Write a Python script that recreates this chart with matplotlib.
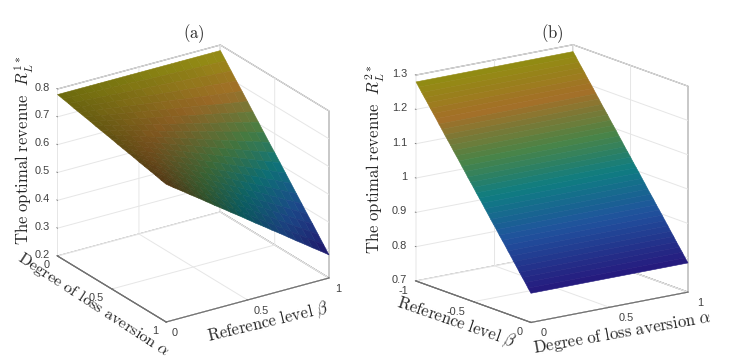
import numpy as np
import matplotlib
matplotlib.use('Agg')
import matplotlib.pyplot as plt
from matplotlib.colors import LinearSegmentedColormap, Normalize
from mpl_toolkits.mplot3d import proj3d

W_PX, H_PX = 742, 362

ALPHA_A = [i / 20 for i in range(21)]
BETA_A = [j / 20 for j in range(21)]
# Revenue: rows are alpha, columns are beta
REVENUE_A = [
    [.780] * 21,
    [.776,.775,.774,.773,.772,.771,.770,.769,.768,.767,.765,.764,.763,.762,.761,.760,.759,.758,.757,.756,.755],
    [.772,.769,.767,.765,.763,.761,.759,.757,.755,.753,.751,.749,.747,.745,.743,.741,.739,.736,.734,.732,.730],
    [.767,.764,.761,.758,.755,.752,.749,.746,.743,.739,.736,.733,.730,.727,.724,.721,.718,.715,.712,.709,.705],
    [.763,.759,.755,.751,.747,.742,.738,.734,.730,.726,.722,.718,.714,.709,.705,.701,.697,.693,.689,.685,.681],
    [.759,.754,.748,.743,.738,.733,.728,.723,.718,.712,.707,.702,.697,.692,.687,.682,.676,.671,.666,.661,.656],
    [.755,.748,.742,.736,.730,.724,.717,.711,.705,.699,.693,.687,.680,.674,.668,.662,.656,.649,.643,.637,.631],
    [.750,.743,.736,.729,.721,.714,.707,.700,.693,.685,.678,.671,.664,.657,.649,.642,.635,.628,.620,.613,.606],
    [.746,.738,.730,.721,.713,.705,.697,.688,.680,.672,.664,.655,.647,.639,.631,.622,.614,.606,.598,.589,.581],
    [.742,.732,.723,.714,.705,.695,.686,.677,.668,.658,.649,.640,.630,.621,.612,.603,.593,.584,.575,.566,.556],
    [.738,.727,.717,.707,.696,.686,.676,.665,.655,.645,.635,.624,.614,.604,.593,.583,.573,.562,.552,.542,.532],
    [.733,.722,.711,.699,.688,.677,.665,.654,.643,.631,.620,.609,.597,.586,.575,.563,.552,.541,.529,.518,.507],
    [.729,.717,.704,.692,.680,.667,.655,.642,.630,.618,.605,.593,.581,.568,.556,.544,.531,.519,.507,.494,.482],
    [.725,.711,.698,.685,.671,.658,.644,.631,.618,.604,.591,.577,.564,.551,.537,.524,.511,.497,.484,.470,.457],
    [.721,.706,.692,.677,.663,.648,.634,.620,.605,.591,.576,.562,.547,.533,.519,.504,.490,.475,.461,.446,.432],
    [.716,.701,.685,.670,.654,.639,.624,.608,.593,.577,.562,.546,.531,.515,.500,.485,.469,.454,.438,.423,.407],
    [.712,.696,.679,.663,.646,.630,.613,.597,.580,.564,.547,.531,.514,.498,.481,.465,.448,.432,.415,.399,.382],
    [.708,.690,.673,.655,.638,.620,.603,.585,.568,.550,.533,.515,.498,.480,.463,.445,.428,.410,.393,.375,.358],
    [.704,.685,.666,.648,.629,.611,.592,.574,.555,.537,.518,.500,.481,.462,.444,.425,.407,.388,.370,.351,.333],
    [.699,.680,.660,.641,.621,.601,.582,.562,.543,.523,.504,.484,.464,.445,.425,.406,.386,.367,.347,.327,.308],
    [.695,.674,.654,.633,.613,.592,.571,.551,.530,.510,.489,.468,.448,.427,.407,.386,.365,.345,.324,.304,.283],
]

BETA_B = [-1, -.975, -.95, -.925, -.9, -.875, -.85, -.825, -.8, -.775, -.75, -.725, -.7, -.675, -.65, -.625,
          -.6, -.575, -.55, -.525, -.5, -.475, -.45, -.425, -.4, -.375, -.35, -.325, -.3, -.275, -.25, -.225,
          -.2, -.175, -.15, -.125, -.1, -.075, -.05, -.025, 0]
ALPHA_B = [0, 1]
# Panel (b) does not change with alpha: one row per beta, same value at both alpha ends
REVENUE_B = [1.280, 1.268, 1.255, 1.243, 1.231, 1.218, 1.206, 1.194, 1.181, 1.169, 1.156, 1.144, 1.132, 1.119,
             1.107, 1.095, 1.082, 1.070, 1.057, 1.045, 1.033, 1.020, 1.008, .996, .983, .971, .958, .946, .934,
             .921, .909, .897, .884, .872, .859, .847, .834, .822, .810, .797, .785]

Z_TICKS_A = [.2, .3, .4, .5, .6, .7, .8]
Z_LABELS_A = ['0.2', '0.3', '0.4', '0.5', '0.6', '0.7', '0.8']
Z_TICKS_B = [.7, .8, .9, 1, 1.1, 1.2, 1.3]
Z_LABELS_B = ['0.7', '0.8', '0.9', '1', '1.1', '1.2', '1.3']
UNIT_TICKS = [0, .5, 1]
UNIT_LABELS = ['0', '0.5', '1']
NEG_TICKS = [-1, -.5, 0]
NEG_LABELS = ['-1', '-0.5', '0']

plt.rcParams['mathtext.fontset'] = 'cm'
plt.rcParams['font.family'] = ['Liberation Sans', 'DejaVu Sans']

SURF = LinearSegmentedColormap.from_list('surf', [
    (0.00, (38/255, 25/255, 125/255)),
    (0.25, (32/255, 82/255, 158/255)),
    (0.45, (15/255, 125/255, 130/255)),
    (0.62, (75/255, 132/255, 70/255)),
    (0.82, (165/255, 112/255, 40/255)),
    (1.00, (145/255, 142/255, 18/255)),
])

TICK_COL = '#404040'
EDGE_COL = '#707070'
GRID_COL = '#e6e6e6'


def style_axes(ax, xlim, ylim, zlim, elev, azim, aspect):
    ax.set_proj_type('ortho')
    ax.view_init(elev=elev, azim=azim)
    ax.set_box_aspect(aspect)
    ax.set_xlim(*xlim, view_margin=0)
    ax.set_ylim(*ylim, view_margin=0)
    ax.set_zlim(*zlim, view_margin=0)
    ax.patch.set_alpha(0)
    for axis in (ax.xaxis, ax.yaxis, ax.zaxis):
        axis.set_pane_color((1, 1, 1, 1))
        axis.pane.set_edgecolor(EDGE_COL)
        axis.pane.set_linewidth(0.8)
        axis.line.set_color(EDGE_COL)
        axis.line.set_linewidth(0.8)
        axis._axinfo['grid'].update(color=GRID_COL, linewidth=0.7)
        axis._axinfo['tick'].update(inward_factor=0.0, outward_factor=0.08, linewidth={True: .6, False: .6})
        axis._axinfo['tick']['color'] = EDGE_COL
    ax.tick_params(color=EDGE_COL)
    ax.zaxis._axinfo['juggled'] = (1, 0, 2)


def place(ax, p0, t0, p1, t1):
    """Size the axes so that two box corners land on the given pixel positions.
    Returns a function from data coordinates to picture pixels."""
    M = ax.get_proj()
    x0, y0, _ = proj3d.proj_transform(*p0, M)
    x1, y1, _ = proj3d.proj_transform(*p1, M)
    vx0, vx1 = ax.viewLim.intervalx
    vy0, vy1 = ax.viewLim.intervaly
    w = (t1[0] - t0[0]) * (vx1 - vx0) / (x1 - x0)
    h = w * (vy1 - vy0) / (vx1 - vx0)
    left = t0[0] - w * (x0 - vx0) / (vx1 - vx0)
    bottom = (H_PX - t0[1]) - h * (y0 - vy0) / (vy1 - vy0)
    ax.set_position([left / W_PX, bottom / H_PX, w / W_PX, h / H_PX])
    k = w / (vx1 - vx0)

    def to_px(x, y, z):
        sx, sy, _ = proj3d.proj_transform(x, y, z, M)
        return left + (sx - vx0) * k, H_PX - (bottom + (sy - vy0) * k)
    return to_px


def draw_surface(ax, X, Y, Z, to_px):
    sx, sy = to_px(X.ravel(), Y.ravel(), Z.ravel())
    sx = sx.reshape(X.shape)
    sy = sy.reshape(X.shape)
    # Projected area of each cell: narrow cells look darker, as a dense mesh does
    area = 0.5 * np.abs((sx[1:, 1:] - sx[:-1, :-1]) * (sy[:-1, 1:] - sy[1:, :-1])
                        - (sx[:-1, 1:] - sx[1:, :-1]) * (sy[1:, 1:] - sy[:-1, :-1]))
    rows, cols = area.shape
    per_cell = area * rows * cols / 36500
    shade = np.clip(per_cell, 0, 1) ** 0.45
    mean_z = (Z[1:, 1:] + Z[:-1, :-1] + Z[1:, :-1] + Z[:-1, 1:]) / 4
    colours = SURF(Normalize(Z.min(), Z.max())(mean_z))
    colours[..., :3] *= shade[..., None]
    surf = ax.plot_surface(X, Y, Z, facecolors=colours, rstride=1, cstride=1, shade=False,
                           antialiased=True)
    surf.set_edgecolor(colours.reshape(-1, 4))
    surf.set_linewidth(0.4)
    return surf


def tick_text(px, py, s, ha):
    fig.text(px / W_PX, 1 - py / H_PX, s, ha=ha, va='center', fontsize=7.9, color=TICK_COL)


def label_ticks(to_px, points, labels, dx, dy, ha):
    for (x, y, z), s in zip(points, labels):
        px, py = to_px(x, y, z)
        tick_text(px + dx, py + dy, s, ha)


fig = plt.figure(figsize=(W_PX / 100, H_PX / 100), dpi=100, facecolor='white')

# Panel (a)
ax_a = fig.add_subplot(121, projection='3d')
style_axes(ax_a, (0, 1), (0, 1), (.2, .8), 23.9, -33.7, (1, 1, 0.933))
px_a = place(ax_a, (0, 0, .2), (57.5, 256), (1, 1, .8), (329, 110))
XA, YA = np.meshgrid(ALPHA_A, BETA_A, indexing='ij')
draw_surface(ax_a, XA, YA, np.array(REVENUE_A), px_a)
ax_a.set_xticks(UNIT_TICKS, [''] * 3)
ax_a.set_yticks(UNIT_TICKS, [''] * 3)
ax_a.set_zticks(Z_TICKS_A, [''] * 7)
label_ticks(px_a, [(t, 0, .2) for t in UNIT_TICKS], UNIT_LABELS, -8, 9.5, 'right')
label_ticks(px_a, [(1, t, .2) for t in UNIT_TICKS], UNIT_LABELS, 6, 11.5, 'left')
label_ticks(px_a, [(0, 0, t) for t in Z_TICKS_A], Z_LABELS_A, -7.5, -1.5, 'right')

# Panel (b)
ax_b = fig.add_subplot(122, projection='3d')
style_axes(ax_b, (-1, 0), (0, 1), (.7, 1.3), 15.3, -36.2, (1, 1, 1.097))
px_b = place(ax_b, (-1, 0, .7), (416, 281), (0, 1, 1.3), (688, 87))
XB, YB = np.meshgrid(BETA_B, ALPHA_B, indexing='ij')
ZB = np.array([[v, v] for v in REVENUE_B])
draw_surface(ax_b, XB, YB, ZB, px_b)
ax_b.set_xticks(NEG_TICKS, [''] * 3)
ax_b.set_yticks(UNIT_TICKS, [''] * 3)
ax_b.set_zticks(Z_TICKS_B, [''] * 7)
label_ticks(px_b, [(t, 0, .7) for t in NEG_TICKS], NEG_LABELS, -8, 10, 'right')
label_ticks(px_b, [(0, t, .7) for t in UNIT_TICKS], UNIT_LABELS, 9.5, 10.5, 'left')
label_ticks(px_b, [(-1, 0, t) for t in Z_TICKS_B], Z_LABELS_B, -9, -1, 'right')


def label(px, py, s, rot=0, size=12):
    fig.text(px / W_PX, 1 - py / H_PX, s, rotation=rot, ha='center', va='center',
             rotation_mode='anchor', fontsize=size, color='#262626')


label(194, 34, r'$\mathrm{(a)}$')
label(552, 34, r'$\mathrm{(b)}$')
label(24, 150, r'$\mathrm{The\ optimal\ revenue}\ \ R_L^{1*}$', 90)
label(375, 159, r'$\mathrm{The\ optimal\ revenue}\ \ R_L^{2*}$', 90)
label(93, 305, r'$\mathrm{Degree\ of\ loss\ aversion}\ \alpha$', -33, 11.8)
label(268, 323, r'$\mathrm{Reference\ level}\ \beta$', 13.5)
label(456, 323, r'$\mathrm{Reference\ level}\ \beta$', -19)
label(622, 332, r'$\mathrm{Degree\ of\ loss\ aversion}\ \alpha$', 10)

fig.savefig('out.png', dpi=100)
